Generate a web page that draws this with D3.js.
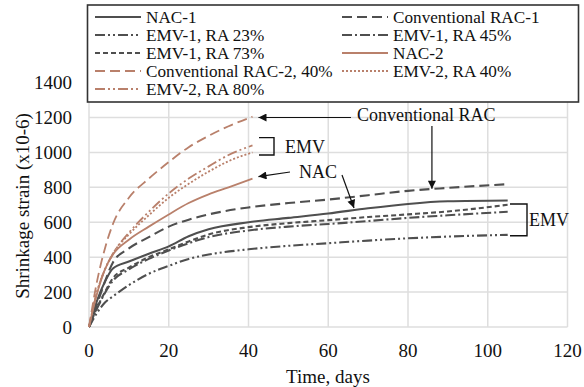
<!DOCTYPE html>
<html>
<head>
<meta charset="utf-8">
<script src="https://cdn.jsdelivr.net/npm/d3@7"></script>
</head>
<body style="margin:0">
<svg id="chart" width="584" height="387"></svg>
<script>
// Shrinkage strain (x10-6) against time (days)
const xTicks = [0, 20, 40, 60, 80, 100, 120];
const yTicks = [0, 200, 400, 600, 800, 1000, 1200, 1400];

const daysLong  = [0, 2, 4, 6, 10, 15, 20, 25, 30, 40, 50, 60, 70, 80, 90, 105];
const daysShort = [0, 2, 4, 6, 10, 15, 20, 25, 30, 35, 41];

const nac1   = [0, 150, 260, 335, 375, 420, 462, 520, 560, 600, 625, 650, 680, 705, 720, 725];
const rac1   = [0, 130, 260, 370, 450, 515, 575, 615, 645, 685, 710, 730, 755, 780, 797, 818];
const emv1a  = [0, 80, 140, 175, 240, 305, 350, 390, 415, 445, 465, 480, 495, 508, 518, 528];
const emv1b  = [0, 105, 195, 265, 330, 390, 438, 480, 515, 553, 575, 590, 607, 625, 640, 660];
const emv1c  = [0, 110, 200, 280, 340, 400, 445, 490, 530, 572, 595, 612, 630, 645, 662, 700];

const nac2   = [0, 190, 330, 415, 500, 575, 645, 710, 760, 800, 850];
const rac2   = [0, 260, 450, 590, 740, 850, 945, 1030, 1095, 1150, 1205];
const emv2a  = [0, 200, 330, 420, 530, 640, 740, 820, 890, 950, 1000];
const emv2b  = [0, 200, 330, 420, 540, 660, 765, 850, 920, 985, 1040];

const seriesNames = [
  "NAC-1", "Conventional RAC-1", "EMV-1, RA 23%", "EMV-1, RA 45%",
  "EMV-1, RA 73%", "NAC-2", "Conventional RAC-2, 40%", "EMV-2, RA 40%",
  "EMV-2, RA 80%"
];

const dark = "#4f4f4f", brown = "#b9806b";
const series = [
  { name: seriesNames[0], days: daysLong,  vals: nac1,  color: dark,  dash: null },
  { name: seriesNames[1], days: daysLong,  vals: rac1,  color: dark,  dash: "10,5" },
  { name: seriesNames[2], days: daysLong,  vals: emv1a, color: dark,  dash: "10,3,2,3,2,3" },
  { name: seriesNames[3], days: daysLong,  vals: emv1b, color: dark,  dash: "10,3,2,3" },
  { name: seriesNames[4], days: daysLong,  vals: emv1c, color: dark,  dash: "5,3" },
  { name: seriesNames[5], days: daysShort, vals: nac2,  color: brown, dash: null },
  { name: seriesNames[6], days: daysShort, vals: rac2,  color: brown, dash: "10,5" },
  { name: seriesNames[7], days: daysShort, vals: emv2a, color: brown, dash: "2,2" },
  { name: seriesNames[8], days: daysShort, vals: emv2b, color: brown, dash: "10,3,2,3,2,3" }
];

const svg = d3.select("#chart").style("display", "block");
const x = d3.scaleLinear().domain([0, 120]).range([89, 567.5]);
const y = d3.scaleLinear().domain([0, 1400]).range([327, 82.6]);

// all text in a serif face
function label(sel, size) {
  return sel.style("font-family", d => "'Liberation Serif'")
    .style("font-size", d => size + "px").attr("fill", "#111");
}

// grid
const grid = svg.append("g").attr("stroke", "#dedede").attr("stroke-width", 1.5);
grid.selectAll(".gx").data(xTicks).join("line")
  .attr("x1", d => x(d)).attr("x2", d => x(d))
  .attr("y1", y(0)).attr("y2", y(1400));
grid.selectAll(".gy").data(yTicks).join("line")
  .attr("x1", x(0)).attr("x2", x(120))
  .attr("y1", d => y(d)).attr("y2", d => y(d));

// curves
const line = d3.line().curve(d3.curveMonotoneX);
svg.append("g").selectAll("path").data(series).join("path")
  .attr("d", s => line(s.days.map((d, i) => [x(d), y(s.vals[i])])))
  .attr("fill", "none")
  .attr("stroke", s => s.color)
  .attr("stroke-width", s => s.color === dark ? 2.1 : 1.8)
  .attr("stroke-dasharray", s => s.dash);

// tick labels, placed with the scales
label(svg.append("g").selectAll("text").data(xTicks).join("text"), 19)
  .attr("x", d => x(d)).attr("y", y(0) + 30).attr("text-anchor", "middle")
  .text(d => d3.format("d")(d));
label(svg.append("g").selectAll("text").data(yTicks).join("text"), 19)
  .attr("x", x(0) - 17).attr("y", d => y(d) + 6.5).attr("text-anchor", "end")
  .text(d => d3.format("d")(d));

label(svg.append("text"), 19).attr("x", 328).attr("y", 383).attr("text-anchor", "middle")
  .text("Time, days");
label(svg.append("text"), 19).attr("transform", "translate(29,206) rotate(-90)")
  .attr("text-anchor", "middle").text("Shrinkage strain (x10-6)");

// annotations
const defs = svg.append("defs");
defs.append("marker").attr("id", "ah").attr("viewBox", "0 0 10 10")
  .attr("refX", 10).attr("refY", 5).attr("markerWidth", 12).attr("markerHeight", 8)
  .attr("markerUnits", "userSpaceOnUse").attr("orient", "auto")
  .append("path").attr("d", "M0,0 L10,5 L0,10 Z").attr("fill", "#111");

const ann = svg.append("g").attr("stroke", "#111").attr("stroke-width", 1.2).attr("fill", "none");
function arrow(x1, y1, x2, y2) {
  ann.append("line").attr("x1", x1).attr("y1", y1).attr("x2", x2).attr("y2", y2)
    .attr("marker-end", "url(#ah)");
}
// Conventional RAC
arrow(351, y(1200), x(42.5), y(1200));
arrow(x(86), 126, x(86), y(792));
label(svg.append("text"), 18).attr("x", 357).attr("y", 121).text("Conventional RAC");
// NAC
arrow(290, 172, x(42.5), y(850) - 2);
arrow(342, 175, 354, 208);
label(svg.append("text"), 18).attr("x", 299).attr("y", 178).text("NAC");
// EMV brackets
ann.append("path").attr("d", `M259,${y(1085)} H274 V${y(985)} H259`).attr("stroke-width", 1.4);
label(svg.append("text"), 18).attr("x", 285).attr("y", 153).text("EMV");
ann.append("path").attr("d", `M510,${y(705)} H527 V${y(523)} H510`).attr("stroke-width", 1.4);
label(svg.append("text"), 18).attr("x", 529).attr("y", 226).text("EMV");

// legend
const lg = svg.append("g");
lg.append("rect").attr("x", 87.5).attr("y", 5).attr("width", 491).attr("height", 97)
  .attr("fill", "#fff").attr("stroke", "#333").attr("stroke-width", 1.6);
const rowY = [17, 35, 53, 71, 89];
const items = lg.selectAll("g.it").data(series).join("g")
  .attr("transform", (s, i) => `translate(${i % 2 === 0 ? 95 : 342},${rowY[Math.floor(i / 2)]})`);
items.append("line").attr("x1", 0).attr("x2", 46).attr("y1", 0).attr("y2", 0)
  .attr("stroke", s => s.color).attr("stroke-width", 2)
  .attr("stroke-dasharray", s => s.dash);
label(items.append("text"), 17.2).attr("x", 51).attr("y", 6).text(s => s.name);
</script>
</body>
</html>
